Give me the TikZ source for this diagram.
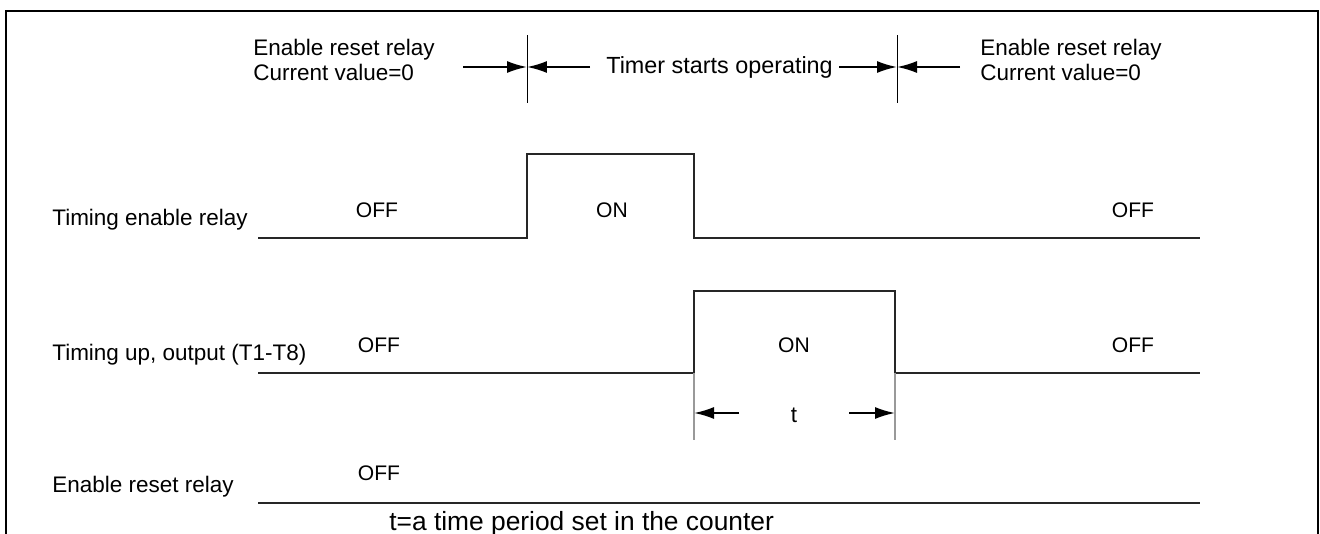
\documentclass[tikz,border=0pt]{standalone}
\usepackage{fontspec}
\setmainfont{Liberation Sans}
\usetikzlibrary{arrows.meta,positioning}

\begin{document}
\begin{tikzpicture}[x=0.02cm,y=-0.02cm,
lbl/.style={anchor=west, inner sep=0pt, align=left, font=\fontsize{12.8pt}{14.2pt}\selectfont},
state/.style={inner sep=0pt, font=\fontsize{12pt}{14pt}\selectfont},
wave/.style={line width=0.8pt, black!85},
tick/.style={line width=0.5pt},
guide/.style={line width=0.7pt, black!40},
arrow/.style={-{Latex[length=4mm,width=2.4mm]}, line width=1.1pt}
]
\useasboundingbox (0,0) rectangle (1320,534);
\draw[line width=1pt] (6,545) -- (6,11) -- (1318,11) -- (1318,545);

\node[lbl] (resetA) at (253,60) {Enable reset relay\\Current value=0};
\node[lbl, font=\fontsize{13.3pt}{15pt}\selectfont] (timer) at (606,67) {Timer starts operating};
\node[lbl] (resetB) at (980,60) {Enable reset relay\\Current value=0};

\coordinate (m1) at (527,67);
\coordinate (m2) at (897,67);
\coordinate (a1) at (463,67);
\coordinate (a2) at (590,67);
\coordinate (a3) at (839,67);
\coordinate (a4) at (960,67);
\draw[tick] (527,35) -- (527,103);
\draw[tick] (897,35) -- (897,103);
\draw[arrow] (a1) -- (m1);
\draw[arrow] (a2) -- (m1);
\draw[arrow] (a3) -- (m2);
\draw[arrow] (a4) -- (m2);

\node[lbl] (rowA) at (52,220) {Timing enable relay};
\node[lbl] (rowB) at (52,355) {Timing up, output (T1-T8)};
\node[lbl] (rowC) at (52,487) {Enable reset relay};

\draw[wave] (258,238) -- (527,238) -- (527,154) -- (694,154) -- (694,238) -- (1200,238);
\draw[wave] (258,373) -- (694,373) -- (694,291) -- (895,291) -- (895,373) -- (1200,373);
\draw[wave] (258,503) -- (1200,503);

\node[state] (offA1) at (377,210) {OFF};
\node[state] (onA) at (612,210) {ON};
\node[state] (offA2) at (1133,210) {OFF};
\node[state] (offB1) at (379,345) {OFF};
\node[state] (onB) at (794,345) {ON};
\node[state] (offB2) at (1133,345) {OFF};
\node[state] (offC) at (379,473) {OFF};

\draw[guide] (694,373) -- (694,440);
\draw[guide] (895,373) -- (895,440);
\coordinate (t1) at (694,413);
\coordinate (t2) at (895,413);
\coordinate (ta) at (739,413);
\coordinate (tb) at (849,413);
\node[lbl, anchor=center] (tlbl) at (794,415) {t};
\draw[arrow] (ta) -- (t1);
\draw[arrow] (tb) -- (t2);

\node[lbl, font=\fontsize{15pt}{17pt}\selectfont] (note) at (389,524) {t=a time period set in the counter};
\end{tikzpicture}
\end{document}
